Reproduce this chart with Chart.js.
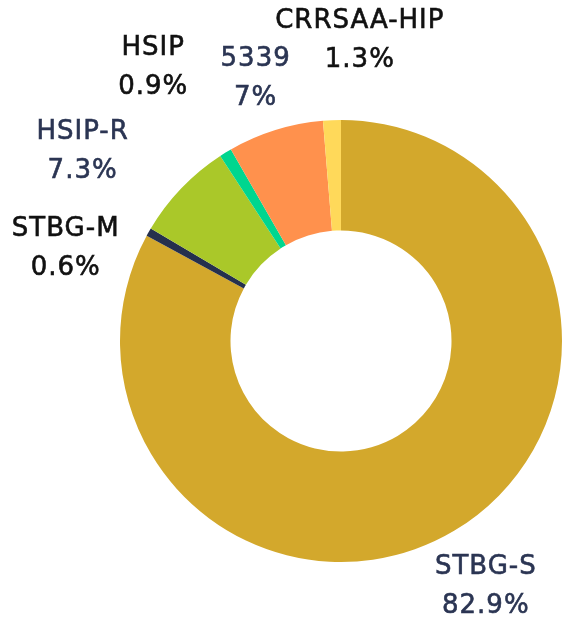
<!DOCTYPE html>
<html>
<head>
<meta charset="utf-8">
<script src="https://cdn.jsdelivr.net/npm/chart.js@4"></script>
<style>
  html, body { margin: 0; padding: 0; background: #fff; }
  #wrap { width: 562px; height: 617px; }
</style>
</head>
<body>
<div id="wrap"><canvas id="fundChart" width="562" height="617"></canvas></div>
<script>
// data (percent of total), clockwise from 12 o'clock
var categories = ["STBG-S", "STBG-M", "HSIP-R", "HSIP", "5339", "CRRSAA-HIP"];
var shares = [82.9, 0.6, 7.3, 0.9, 7, 1.3];
var shareLabels = ["82.9%", "0.6%", "7.3%", "0.9%", "7%", "1.3%"];

var sliceColors = ["#D3A82C", "#25304D", "#AAC829", "#00D68F", "#FF914D", "#FFD95A"];
var labelColors = ["#2B3553", "#111111", "#2B3553", "#111111", "#2B3553", "#111111"];
// label placement: distance from centre and angle nudge (degrees) from slice middle
var labelDist = [283, 291, 322, 334, 278, 303];
var labelNudge = [0, -10.6, -7.1, -2.7, -0.6, 5.9];

var outsideLabels = {
    id: 'outsideLabels',
    afterDatasetsDraw: function (chart) {
        var ctx = chart.ctx;
        var meta = chart.getDatasetMeta(0);
        ctx.save();
        ctx.font = '26px "DejaVu Sans", sans-serif';
        ctx.letterSpacing = '1px';
        ctx.textAlign = 'center';
        ctx.textBaseline = 'middle';
        ctx.lineWidth = 0.6;
        meta.data.forEach(function (arc, i) {
            var p = arc.getProps(['x', 'y', 'startAngle', 'endAngle'], true);
            var mid = (p.startAngle + p.endAngle) / 2 + labelNudge[i] * Math.PI / 180;
            var lx = p.x + Math.cos(mid) * labelDist[i];
            var ly = p.y + Math.sin(mid) * labelDist[i] + 2.5;
            ctx.fillStyle = labelColors[i];
            ctx.strokeStyle = labelColors[i];
            ctx.fillText(categories[i], lx, ly - 19.5);
            ctx.strokeText(categories[i], lx, ly - 19.5);
            ctx.fillText(shareLabels[i], lx, ly + 19.5);
            ctx.strokeText(shareLabels[i], lx, ly + 19.5);
        });
        ctx.restore();
    }
};

var ctx = document.getElementById("fundChart").getContext('2d');
var fundChart = new Chart(ctx, {
    type: 'doughnut',
    data: {
        labels: categories,
        datasets: [{
            data: shares,
            backgroundColor: sliceColors,
            borderWidth: 0
        }]
    },
    options: {
        responsive: false,
        animation: false,
        cutout: '50%',
        layout: {
            padding: { left: 120, right: 0, top: 120, bottom: 55 }
        },
        plugins: {
            legend: { display: false },
            tooltip: { enabled: false }
        }
    },
    plugins: [outsideLabels]
});
</script>
</body>
</html>
